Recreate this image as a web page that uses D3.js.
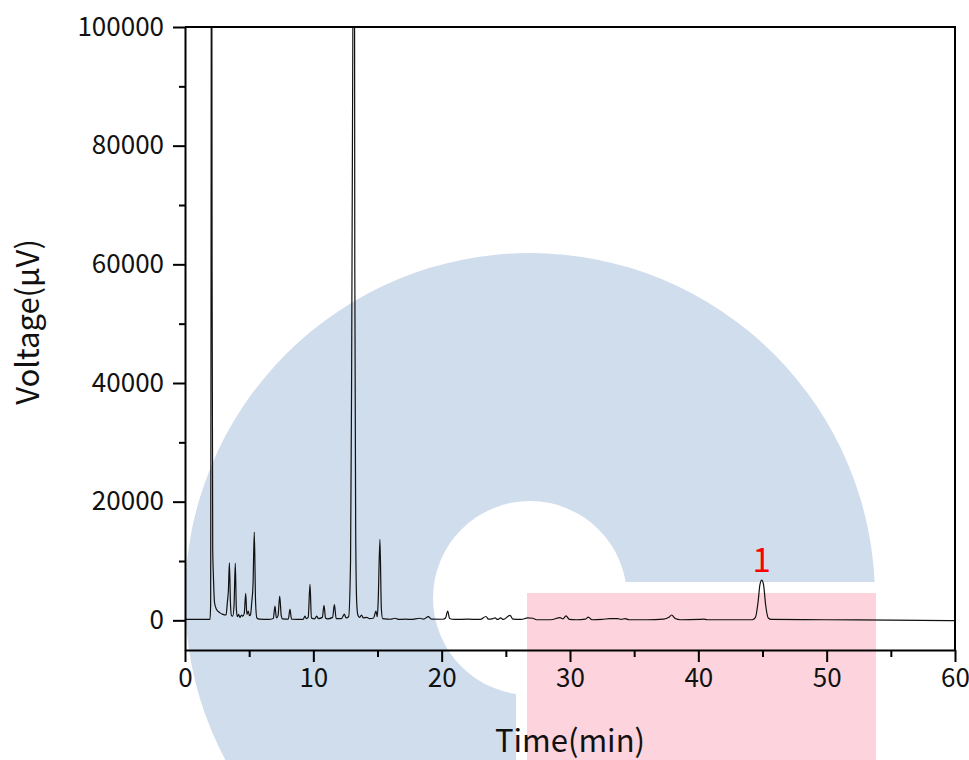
<!DOCTYPE html>
<html>
<head>
<meta charset="utf-8">
<script src="https://cdn.jsdelivr.net/npm/d3@7"></script>
<style>
  body { margin: 0; background: #fff; }
  svg { display: block; font-family: "Noto Sans CJK SC", "Noto Sans", sans-serif; }
  .tick text { font-family: "Noto Sans CJK SC", "Noto Sans", sans-serif; font-size: 26px; fill: #111; }
</style>
</head>
<body>
<script>
/* chromatogram trace: time (min) and signal (uV) */
var times = [
  0, 1.95, 2.0, 2.03, 2.07, 2.11, 2.16, 2.2, 2.25, 2.3, 2.45, 2.7, 2.95, 3.2,
  3.3, 3.38, 3.46, 3.54, 3.62, 3.72, 3.82, 3.92, 4.0, 4.08, 4.18, 4.28, 4.4, 4.5,
  4.62, 4.73, 4.82, 4.93, 5.02, 5.1, 5.2, 5.3, 5.4, 5.5, 5.6, 5.8, 6.5, 6.88,
  7.01, 7.12, 7.25, 7.38, 7.5, 7.6, 8.05, 8.18, 8.3, 9.2, 9.35, 9.45, 9.6, 9.74,
  9.85, 10.1, 10.26, 10.4, 10.7, 10.83, 10.95, 11.1, 11.5, 11.64, 11.78, 12.2,
  12.41, 12.55, 12.75, 12.9, 12.98, 13.08, 13.17, 13.23, 13.3, 13.38, 13.48,
  13.6, 13.75, 13.9, 14.15, 14.4, 14.7, 14.88, 14.98, 15.05, 15.19, 15.3, 15.4,
  15.8, 16.0, 16.4, 16.6, 17.2, 17.6, 18.3, 18.6, 18.96, 19.2, 20.1, 20.3, 20.47,
  20.62, 21.0, 22.0, 23.0, 23.45, 23.65, 24.0, 24.16, 24.35, 24.6, 24.8, 25.33,
  25.55, 26.2, 26.7, 27.1, 27.4, 28.5, 29.22, 29.45, 29.69, 29.95, 30.5, 31.2,
  31.43, 31.7, 32.5, 33.1, 33.7, 34.0, 34.29, 34.6, 36.0, 37.3, 37.7, 37.92,
  38.2, 38.6, 40.1, 40.39, 40.7, 44.2, 44.45, 44.65, 44.8, 44.94, 45.08, 45.25,
  45.45, 45.7, 50.0, 55.0, 60.0
];
var voltages = [
  150, 150, 3000, 60000, 160000, 60000, 12000, 8300, 5000, 3000, 1850, 1300, 1000, 900,
  3000, 5000, 9700, 3000, 800, 700, 2500, 9600, 2000, 600, 1000, 500, 900, 700,
  1200, 4550, 1000, 1550, 800, 900, 3000, 6000, 14870, 3000, 400, 200, 150, 300,
  2400, 400, 800, 4100, 800, 250, 200, 1850, 200, 150, 700, 300, 500, 6060,
  400, 250, 700, 300, 500, 2530, 400, 250, 500, 2640, 300, 300,
  1060, 400, 600, 10000, 40000, 100000, 200000, 60000, 15000, 3000, 800,
  500, 900, 400, 500, 300, 400, 1570, 600, 3000, 13640, 2000, 300,
  200, 180, 350, 150, 200, 150, 350, 200, 620, 200, 180, 400, 1570,
  300, 150, 200, 150, 650, 200, 300, 400, 150, 400, 150, 840,
  200, 150, 400, 350, 100, 100, 450, 250, 750, 150, 100, 200,
  550, 100, 150, 300, 300, 150, 300, 100, 100, 200, 500, 900,
  300, 100, 150, 200, 100, 100, 500, 3000, 6000, 6790, 6000, 2500,
  400, 150, 100, 50, -50
];

var peakTimes = [44.94];
var peakHeights = [6790];
var peakNames = ["1"];

var xMajor = [0, 10, 20, 30, 40, 50, 60];
var xMinor = [5, 15, 25, 35, 45, 55];
var yMajor = [0, 20000, 40000, 60000, 80000, 100000];
var yMinor = [10000, 30000, 50000, 70000, 90000];

var width = 969, height = 760;
var margin = {left: 185, right: 14, top: 27, bottom: 110};

var svg = d3.select("body").append("svg")
  .attr("width", width)
  .attr("height", height);

/* watermark behind the plot */
function draw_watermark() {
  var g = svg.append("g").attr("class", "watermark");
  g.append("circle")
    .attr("cx", 530).attr("cy", 598).attr("r", 345)
    .attr("fill", "#d0ddec");
  g.append("circle")
    .attr("cx", 530).attr("cy", 598).attr("r", 97)
    .attr("fill", "#fff");
  g.append("rect")
    .attr("x", 516).attr("y", 582)
    .attr("width", width - 516).attr("height", height - 582)
    .attr("fill", "#fff");
  g.append("rect")
    .attr("x", 527).attr("y", 593)
    .attr("width", 349).attr("height", height - 593)
    .attr("fill", "#fdd3dd");
}
draw_watermark();

var x = d3.scaleLinear()
  .domain([0, 60])
  .range([margin.left, width - margin.right]);

var y = d3.scaleLinear()
  .domain([-5000, 100000])
  .range([height - margin.bottom, margin.top]);

svg.append("clipPath")
  .attr("id", "plot-clip")
  .append("rect")
  .attr("x", x(0)).attr("y", y(100000))
  .attr("width", x(60) - x(0)).attr("height", y(-5000) - y(100000));

var points = times.map(function (t, i) { return [t, voltages[i]]; });

var line = d3.line()
  .x(function (d) { return x(d[0]); })
  .y(function (d) { return y(d[1]); })
  .curve(d3.curveMonotoneX);

svg.append("path")
  .datum(points)
  .attr("clip-path", "url(#plot-clip)")
  .attr("fill", "none")
  .attr("stroke", "#111")
  .attr("stroke-width", 1.2)
  .attr("stroke-linejoin", "round")
  .attr("d", line);

/* frame: top and right edges */
svg.append("path")
  .attr("fill", "none")
  .attr("stroke", "#000")
  .attr("stroke-width", 2)
  .attr("d", "M" + x(0) + "," + y(100000) + "H" + x(60) + "V" + y(-5000));

/* axes, major ticks with labels and minor ticks without */
var fmt = d3.format("d");

svg.append("g")
  .attr("transform", "translate(0," + y(-5000) + ")")
  .call(d3.axisBottom(x).tickValues(xMajor).tickFormat(fmt)
    .tickSize(12).tickPadding(7).tickSizeOuter(0));

svg.append("g")
  .attr("transform", "translate(0," + y(-5000) + ")")
  .call(d3.axisBottom(x).tickValues(xMinor).tickSize(7).tickFormat("").tickSizeOuter(0))
  .select(".domain").remove();

svg.append("g")
  .attr("transform", "translate(" + x(0) + ",0)")
  .call(d3.axisLeft(y).tickValues(yMajor).tickFormat(fmt)
    .tickSize(12).tickPadding(9).tickSizeOuter(0));

svg.append("g")
  .attr("transform", "translate(" + x(0) + ",0)")
  .call(d3.axisLeft(y).tickValues(yMinor).tickSize(6).tickFormat("").tickSizeOuter(0))
  .select(".domain").remove();

svg.selectAll(".domain").attr("stroke-width", 2);
svg.selectAll(".tick line").attr("stroke-width", 2);

/* axis titles */
svg.append("text")
  .attr("x", (x(0) + x(60)) / 2)
  .attr("y", 752)
  .attr("text-anchor", "middle")
  .attr("font-size", 31)
  .attr("fill", "#111")
  .text("Time(min)");

svg.append("text")
  .attr("transform", "translate(39,322) rotate(-90)")
  .attr("text-anchor", "middle")
  .attr("font-size", 31)
  .attr("fill", "#111")
  .text("Voltage(μV)");

/* peak labels */
svg.selectAll(".peak-label")
  .data(peakNames)
  .enter().append("text")
  .attr("class", "peak-label")
  .attr("x", function (d, i) { return x(peakTimes[i]); })
  .attr("y", function (d, i) { return y(peakHeights[i]) - 8; })
  .attr("text-anchor", "middle")
  .attr("font-size", 33)
  .attr("fill", "#ff0000")
  .text(function (d) { return d; });
</script>
</body>
</html>
